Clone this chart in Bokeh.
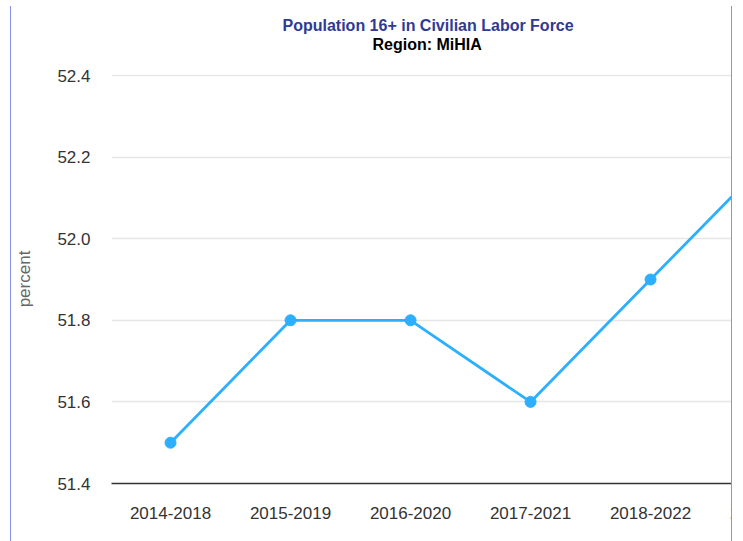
from bokeh.plotting import figure
from bokeh.layouts import column
from bokeh.models import (Range1d, FixedTicker, Title,
                          ColumnDataSource, NumeralTickFormatter)
from bokeh.embed import file_html
from bokeh.resources import INLINE

# ---- data ----
categories = ["2014-2018", "2015-2019", "2016-2020", "2017-2021", "2018-2022", "2019-2023"]
values = [51.5, 51.8, 51.8, 51.6, 51.9, 52.2]
y_ticks = [51.4, 51.6, 51.8, 52.0, 52.2, 52.4]
title_text = "Population 16+ in Civilian Labor Force"
subtitle_text = "Region: MiHIA"
y_label = "percent"

FONT = "Liberation Sans"
LINE_COLOR = "#2caffe"
BORDER_COLOR = "#8c90ea"

xs = list(range(len(categories)))
src = ColumnDataSource(dict(x=xs, y=values, cat=categories))

# the chart is wider than its container; the container crops it on the right
p = figure(width=834, height=535, output_backend="svg", toolbar_location=None,
           x_range=Range1d(-0.492, 5.508), y_range=Range1d(y_ticks[0], y_ticks[-1] + 0.0025),
           min_border_left=100, min_border_right=14, min_border_bottom=58, min_border_top=68)
p.title = None
p.outline_line_color = None
p.background_fill_color = "white"
p.border_fill_color = "white"
p.styles = {"min-width": "834px", "flex-shrink": "0"}

# titles (added nearest-first); first one is an invisible spacer
p.add_layout(Title(text=" ", text_font=FONT, text_font_size="16px", standoff=3), "above")
p.add_layout(Title(text=subtitle_text, align="left", offset=261, text_font=FONT,
                   text_font_size="16px", text_font_style="bold", text_color="#000000",
                   standoff=0), "above")
p.add_layout(Title(text=title_text, align="left", offset=171, text_font=FONT,
                   text_font_size="16px", text_font_style="bold", text_color="#2f3a94",
                   standoff=0), "above")

# line + markers
p.line("x", "y", source=src, line_color=LINE_COLOR, line_width=2.8)
p.scatter("x", "y", source=src, size=11, fill_color=LINE_COLOR, line_color=LINE_COLOR)

# axes
xa = p.xaxis[0]
xa.ticker = FixedTicker(ticks=xs)
xa.major_label_overrides = {i: c for i, c in zip(xs, categories)}
xa.axis_line_color = "#333333"
xa.axis_line_width = 1.5
xa.major_tick_line_color = None
xa.minor_tick_line_color = None
xa.major_tick_out = 0
xa.major_tick_in = 0
xa.major_label_standoff = 23
xa.major_label_text_font = FONT
xa.major_label_text_font_size = "17px"
xa.major_label_text_color = "#333333"

ya = p.yaxis[0]
ya.ticker = FixedTicker(ticks=y_ticks)
ya.formatter = NumeralTickFormatter(format="0.0")
ya.axis_line_color = None
ya.major_tick_line_color = None
ya.minor_tick_line_color = None
ya.major_tick_out = 0
ya.major_tick_in = 0
ya.major_label_standoff = 21
ya.major_label_text_font = FONT
ya.major_label_text_font_size = "17px"
ya.major_label_text_color = "#333333"
ya.axis_label = y_label
ya.axis_label_text_font = FONT
ya.axis_label_text_font_size = "17px"
ya.axis_label_text_font_style = "normal"
ya.axis_label_text_color = "#666666"
ya.axis_label_standoff = 20

p.xgrid.grid_line_color = None
p.ygrid.grid_line_color = "#e6e6e6"
p.ygrid.grid_line_width = 1.4

layout = column(p, width=722, height=535,
                styles={"overflow": "hidden",
                        "border-left": f"1.5px solid {BORDER_COLOR}",
                        "border-right": f"1.5px solid {BORDER_COLOR}",
                        "margin-left": "10px", "margin-top": "6px"})

open("out.html", "w").write(file_html(layout, INLINE))
